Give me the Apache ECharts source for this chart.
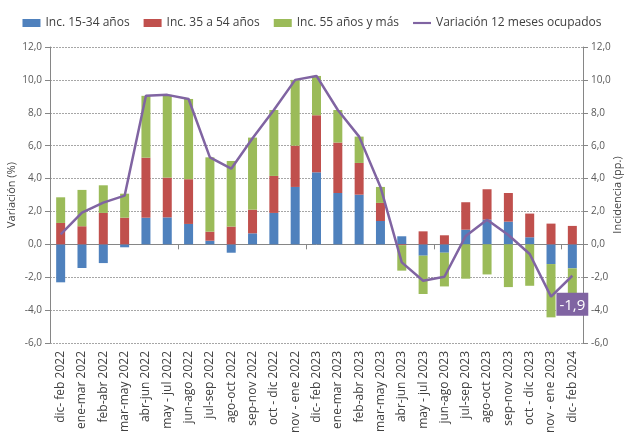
<!DOCTYPE html>
<html lang="es">
<head>
    <meta charset="UTF-8">
    <title>Variación ocupados</title>
    <script src="https://cdn.jsdelivr.net/npm/echarts@6/dist/echarts.min.js"></script>
    <style>
        body { margin: 0; background: #fff; }
        #chart { width: 624px; height: 445px; }
    </style>
</head>
<body>
<div id="chart"></div>
<script>
    var periodos = ['dic- feb 2022','ene-mar 2022','feb-abr 2022','mar-may 2022','abr-jun 2022','may - jul 2022',
        'jun-ago 2022','jul-sep 2022','ago-oct 2022','sep-nov 2022','oct - dic 2022','nov - ene 2022',
        'dic- feb 2023','ene-mar 2023','feb-abr 2023','mar-may 2023','abr-jun 2023','may - jul 2023',
        'jun-ago 2023','jul-sep 2023','ago-oct 2023','sep-nov 2023','oct - dic 2023','nov - ene 2023','dic- feb 2024'];
    var inc15a34 = [-2.31,-1.44,-1.14,-0.18,1.62,1.64,1.24,0.22,-0.51,0.67,1.91,3.49,4.38,3.12,3.02,1.42,0.49,-0.69,-0.51,0.89,1.50,1.38,0.43,-1.20,-1.46];
    var inc35a54 = [1.30,1.10,1.91,1.62,3.65,2.42,2.72,0.55,1.08,1.44,2.25,2.51,3.47,3.07,1.93,1.10,-0.05,0.79,0.55,1.67,1.85,1.74,1.44,1.26,1.12];
    var inc55mas = [1.56,2.21,1.68,1.46,3.76,5.03,4.88,4.52,3.99,4.38,4.01,4.00,2.39,1.98,1.60,0.97,-1.55,-2.33,-2.05,-2.09,-1.83,-2.60,-2.52,-3.24,-1.56];
    var variacion = [0.61,1.93,2.54,2.96,9.03,9.09,8.84,5.29,4.60,6.45,8.17,10.00,10.24,8.17,6.55,3.49,-1.10,-2.21,-1.97,0.51,1.50,0.57,-0.59,-3.18,-1.91];

    var fuente = 'Open Sans';
    var coma = function (v) { return v.toFixed(1).replace('.', ','); };

    // ultimo punto con etiqueta
    var lineaData = variacion.map(function (v, i) {
        if (i === variacion.length - 1) {
            return {
                value: v,
                label: {
                    show: true, position: 'bottom', distance: 17,
                    formatter: function (p) { return coma(p.value); },
                    backgroundColor: '#8064A2', color: '#fff',
                    fontSize: 15, fontFamily: fuente, padding: [5, 3, 3, 3]
                }
            };
        }
        return v;
    });

    var myChart = echarts.init(document.getElementById('chart'));
    var barra = function (nombre, color, datos) {
        return {
            name: nombre, type: 'bar', stack: 'inc', data: datos,
            barWidth: 9, itemStyle: { color: color }
        };
    };
    var option = {
        animation: false,
        textStyle: { fontFamily: fuente },
        legend: {
            top: 12, left: 'center', itemGap: 14, itemWidth: 18, itemHeight: 8,
            textStyle: { fontSize: 12, color: '#404040' },
            data: [
                { name: 'Inc. 15-34 años', icon: 'rect' },
                { name: 'Inc. 35 a 54 años', icon: 'rect' },
                { name: 'Inc. 55 años y más', icon: 'rect' },
                { name: 'Variación 12 meses ocupados', icon: 'path://M0,0 L20,0 L20,2.4 L0,2.4 Z', itemHeight: 3 }
            ]
        },
        grid: { left: 50, right: 41, top: 47, bottom: 102, outerBoundsMode: 'none' },
        xAxis: [{
            type: 'category', data: periodos,
            axisLine: { onZero: true, lineStyle: { color: '#868686' } },
            axisTick: { show: true, length: 5, lineStyle: { color: '#868686' } },
            axisLabel: { show: false }
        }, {
            type: 'category', data: periodos, position: 'bottom',
            axisLine: { show: false, onZero: false },
            axisTick: { show: false },
            axisLabel: { rotate: 90, interval: 0, margin: 8, fontSize: 12, color: '#404040' }
        }],
        yAxis: [{
            type: 'value', min: -6, max: 12, interval: 2,
            name: 'Variación (%)', nameLocation: 'middle', nameGap: 33, nameRotate: 90,
            nameMoveOverlap: false,
            nameTextStyle: { fontSize: 11, color: '#404040' },
            axisLine: { show: true, lineStyle: { color: '#868686' } },
            axisTick: { show: true, length: 5, lineStyle: { color: '#868686' } },
            axisLabel: { formatter: coma, fontSize: 10, color: '#595959' },
            splitLine: { lineStyle: { color: '#A6A6A6', type: [2, 1] } }
        }, {
            type: 'value', min: -6, max: 12, interval: 2, position: 'right',
            name: 'Incidencia (pp.)', nameLocation: 'middle', nameGap: 29, nameRotate: 90,
            nameMoveOverlap: false,
            nameTextStyle: { fontSize: 11, color: '#404040' },
            axisLine: { show: true, lineStyle: { color: '#868686' } },
            axisTick: { show: true, length: 5, lineStyle: { color: '#868686' } },
            axisLabel: { formatter: coma, fontSize: 10, color: '#595959' },
            splitLine: { show: false }
        }],
        series: [
            barra('Inc. 15-34 años', '#4F81BD', inc15a34),
            barra('Inc. 35 a 54 años', '#C0504D', inc35a54),
            barra('Inc. 55 años y más', '#9BBB59', inc55mas),
            {
                name: 'Variación 12 meses ocupados', type: 'line', data: lineaData,
                showSymbol: true, symbol: 'circle', symbolSize: 0.1,
                lineStyle: { color: '#8064A2', width: 2.5 },
                itemStyle: { color: '#8064A2' }, z: 5
            }
        ]
    };
    myChart.setOption(option);
</script>
</body>
</html>
